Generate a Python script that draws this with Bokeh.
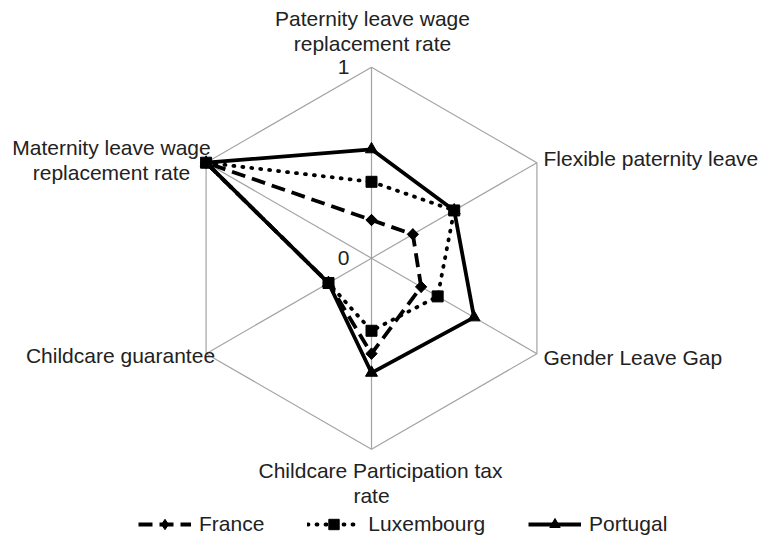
import math
from bokeh.plotting import figure
from bokeh.models import Range1d, Legend, LegendItem
from bokeh.core.properties import value
from bokeh.embed import file_html
from bokeh.resources import INLINE

# ---- data ----
categories = [
    ["Paternity leave wage", "replacement rate"],
    ["Flexible paternity leave"],
    ["Gender Leave Gap"],
    ["Childcare Participation tax", "rate"],
    ["Childcare guarantee"],
    ["Maternity leave wage", "replacement rate"],
]
axis_angles_deg = [90, 30, -30, -90, -150, 150]
series_names = ["France", "Luxembourg", "Portugal"]
france = [0.20, 0.25, 0.30, 0.50, 0.26, 1.00]
luxembourg = [0.40, 0.50, 0.40, 0.38, 0.26, 1.00]
portugal = [0.57, 0.50, 0.62, 0.60, 0.26, 1.00]
tick_values = [0, 1]
tick_labels = ["0", "1"]

# ---- layout ----
R = 191.0              # pixels per unit radius
W, H = 775, 537
CX, CY = 371.0, 257.7  # chart center in figure pixels (from top-left)
FONT = "Liberation Sans"
FS = "21px"
TXT = "#222222"

p = figure(width=W, height=H, output_backend="svg", toolbar_location=None,
           x_range=Range1d(-CX / R, (W - CX) / R),
           y_range=Range1d(-(H - CY) / R, CY / R),
           x_axis_type=None, y_axis_type=None, min_border=0)
p.grid.visible = False
p.outline_line_color = None
p.background_fill_color = "white"


def pix(xp, yp):
    """figure pixel (from top-left) -> data coords"""
    return (xp - CX) / R, (CY - yp) / R


ang = [math.radians(a) for a in axis_angles_deg]

# grid: outer hexagon and spokes
hx = [math.cos(a) for a in ang] + [math.cos(ang[0])]
hy = [math.sin(a) for a in ang] + [math.sin(ang[0])]
p.line(hx, hy, line_color="#a3a3a3", line_width=1.2)
p.segment(x0=[0] * 6, y0=[0] * 6, x1=hx[:6], y1=hy[:6], line_color="#a3a3a3", line_width=1.2)

# tick labels along the top axis
p.text(x=[-22 / R] * len(tick_values), y=[t * math.sin(ang[0]) for t in tick_values], text=tick_labels,
       text_font=value(FONT), text_font_size=FS, text_color=TXT,
       text_align="right", text_baseline="middle")


def radar(vals):
    xs = [v * math.cos(a) for v, a in zip(vals, ang)]
    ys = [v * math.sin(a) for v, a in zip(vals, ang)]
    return xs, ys


styles = [
    dict(dash="14 7", cap="butt", marker="diamond", size=11, rot=True),
    dict(dash="1 8", cap="round", marker="square", size=11, rot=False),
    dict(dash="solid", cap="butt", marker="triangle", size=12, rot=False),
]
items = []
for name, vals, st in zip(series_names, [france, luxembourg, portugal], styles):
    xs, ys = radar(vals)
    lr = p.line(xs + [xs[0]], ys + [ys[0]], line_color="black", line_width=3.8,
                line_dash=st["dash"], line_cap=st["cap"], line_join="round")
    sr = p.scatter(xs, ys, marker=st["marker"], size=st["size"],
                   fill_color="black", line_color="black", line_width=1)
    if st["rot"]:
        # true (equal-sided) diamond on top of the legend-friendly diamond
        p.scatter(xs, ys, marker="square", size=8, angle=math.pi / 4,
                  fill_color="black", line_color="black", line_width=1)
    items.append(LegendItem(label=name, renderers=[lr, sr]))

# axis labels (figure pixel positions)
label_specs = [
    (categories[0], [(372, 18), (372, 43)], "center"),
    (categories[1], [(543, 158)], "left"),
    (categories[2], [(543, 356.5)], "left"),
    (categories[3], [(380, 470), (371, 495)], "center"),
    (categories[4], [(120, 355)], "center"),
    (categories[5], [(111, 146.7), (111, 171.7)], "center"),
]
for lines, poss, align in label_specs:
    for ln, (xp, yp) in zip(lines, poss):
        x, y = pix(xp, yp)
        p.text(x=[x], y=[y], text=[ln], text_font=value(FONT), text_font_size=FS,
               text_color=TXT, text_align=align, text_baseline="middle")

legend = Legend(items=items, orientation="horizontal", location=(138, 0),
                glyph_width=53, glyph_height=26, label_height=26, label_standoff=8,
                spacing=43, padding=0, margin=0, border_line_alpha=0,
                background_fill_alpha=0, label_text_font=FONT,
                label_text_font_size=FS, label_text_color=TXT,
                label_text_baseline="middle")
p.add_layout(legend)

open("out.html", "w").write(file_html(p, INLINE))
